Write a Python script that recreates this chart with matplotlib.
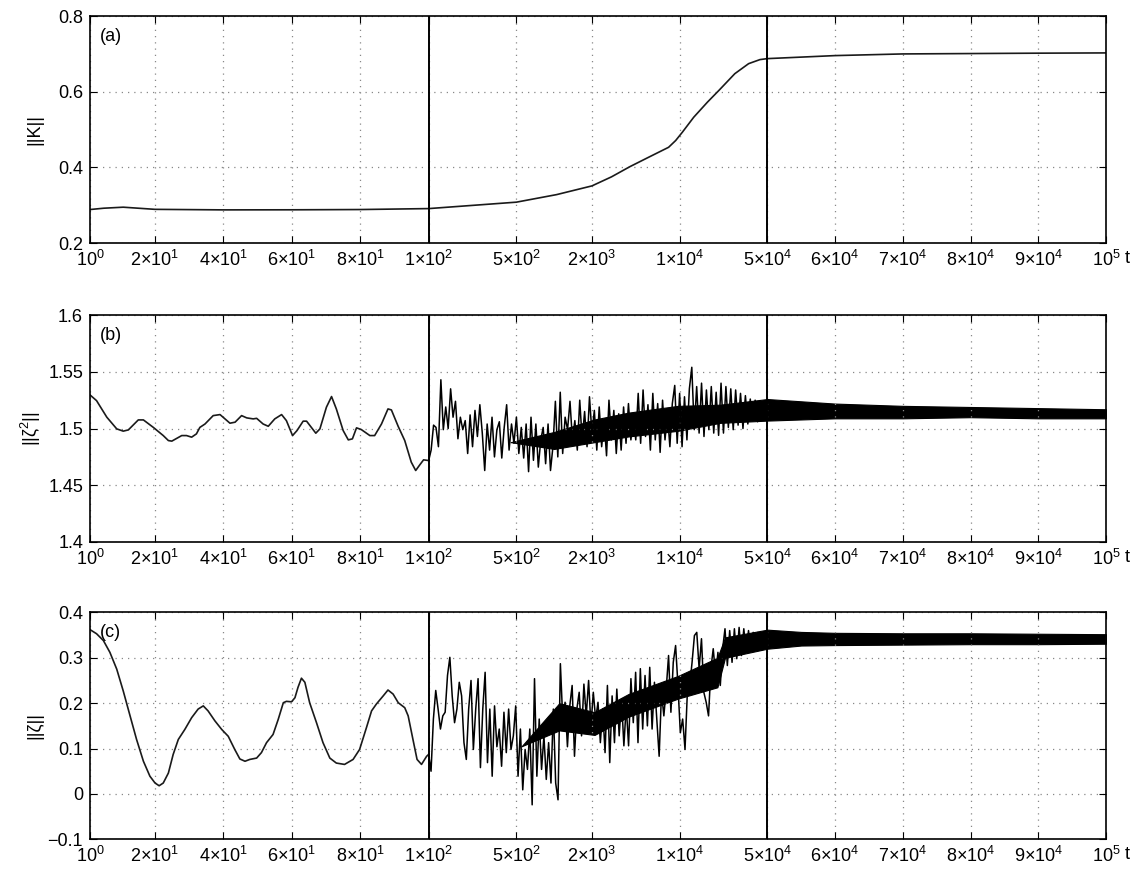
import numpy as np
import matplotlib
matplotlib.use('Agg')
import matplotlib.pyplot as plt

plt.rcParams['font.family'] = ['Liberation Sans', 'DejaVu Sans']
plt.rcParams['mathtext.fontset'] = 'custom'
plt.rcParams['mathtext.rm'] = 'Liberation Sans'
plt.rcParams['mathtext.it'] = 'Liberation Sans:italic'

# ---- x axis: ticks and labels ----
xticks = [1, 20, 40, 60, 80, 100, 500, 2000, 1e4, 5e4, 6e4, 7e4, 8e4, 9e4, 1e5]
xticklabels = [r'$\mathregular{10^{0}}$', r'$\mathregular{2{\times}10^{1}}$', r'$\mathregular{4{\times}10^{1}}$',
               r'$\mathregular{6{\times}10^{1}}$', r'$\mathregular{8{\times}10^{1}}$', r'$\mathregular{1{\times}10^{2}}$',
               r'$\mathregular{5{\times}10^{2}}$', r'$\mathregular{2{\times}10^{3}}$', r'$\mathregular{1{\times}10^{4}}$',
               r'$\mathregular{5{\times}10^{4}}$', r'$\mathregular{6{\times}10^{4}}$', r'$\mathregular{7{\times}10^{4}}$',
               r'$\mathregular{8{\times}10^{4}}$', r'$\mathregular{9{\times}10^{4}}$', r'$\mathregular{10^{5}}$']
breaks = [100, 5e4]

# ---- panel (a): ||K|| ----
a_t = [1, 5, 10.7, 20, 40, 60, 80, 100, 500, 1047, 2000, 2866, 4009, 5600, 8166, 9300, 10510,
       12960, 16670, 20560, 27540, 35480, 43650, 5e4, 6e4, 7e4, 8e4, 9e4, 1e5]
a_v = [0.2885, 0.292, 0.2947, 0.289, 0.2876, 0.2878, 0.2885, 0.291, 0.308, 0.328, 0.351,
       0.375, 0.4018, 0.426, 0.4531, 0.471, 0.4929, 0.5327, 0.5726, 0.6035, 0.6478, 0.6743,
       0.6850, 0.6876, 0.6956, 0.700, 0.701, 0.702, 0.7027]

# ---- panel (b): ||zeta^2|| ----
b1_t = [1, 2.9, 5.9, 8.8, 10.7, 12.2, 15.1, 16.6, 19.5, 22.4, 23.9, 24.9, 27.8, 29.2, 30.7,
        32.1, 33.1, 34.6, 37, 39, 41.9, 43.4, 45.3, 46.8, 48.7, 49.7, 51.6, 53.1, 55, 57,
        58.4, 60.2, 61.5, 63.3, 64.3, 67, 68.2, 70.1, 71.6, 73, 75, 76.5, 77.7, 78.9, 80.3,
        82.8, 84.2, 86.2, 88.1, 89.1, 91.1, 93, 94.9, 96.2, 97.4, 98.5, 100]
b1_v = [1.5296, 1.5246, 1.510, 1.4997, 1.4977, 1.4988, 1.5076, 1.5076, 1.501, 1.4938,
        1.4894, 1.4889, 1.4938, 1.4938, 1.4924, 1.4953, 1.501, 1.504, 1.5114, 1.5123,
        1.5047, 1.5056, 1.5114, 1.5094, 1.5085, 1.509, 1.504, 1.502, 1.5085, 1.5123,
        1.507, 1.4938, 1.4982, 1.5065, 1.5065, 1.4959, 1.4997, 1.5188, 1.5282, 1.5173,
        1.4982, 1.49, 1.4909, 1.5006, 1.4991, 1.4938, 1.4938, 1.504, 1.5173, 1.5164,
        1.5018, 1.4894, 1.4704, 1.4630, 1.468, 1.4724, 1.4718]
# oscillating part 1e2..5e4, read peak/trough values left to right
b2_v = [1.4718, 1.481, 1.503, 1.501, 1.484, 1.543, 1.499, 1.519, 1.500, 1.535, 1.510, 1.524,
        1.491, 1.510, 1.499, 1.507, 1.478, 1.512, 1.484, 1.516, 1.493, 1.521, 1.496, 1.463,
        1.504, 1.481, 1.510, 1.475, 1.499, 1.506, 1.474, 1.501, 1.521, 1.481, 1.504, 1.487,
        1.510, 1.478, 1.501, 1.474, 1.504, 1.462, 1.510, 1.472, 1.504, 1.466, 1.490, 1.501,
        1.469, 1.504, 1.463, 1.484, 1.524, 1.475, 1.532, 1.478, 1.510, 1.499, 1.524, 1.490,
        1.507, 1.481, 1.525, 1.490, 1.515, 1.484, 1.528, 1.496, 1.516, 1.481,
        1.519, 1.484, 1.507, 1.476, 1.525, 1.490, 1.516, 1.478, 1.513, 1.481, 1.519, 1.487,
        1.522, 1.490, 1.509, 1.490, 1.531, 1.487, 1.534, 1.493, 1.521, 1.481, 1.531, 1.490,
        1.522, 1.479, 1.525, 1.490, 1.513, 1.484, 1.522, 1.538, 1.487, 1.531, 1.484, 1.528,
        1.490, 1.535, 1.554, 1.499, 1.537, 1.496, 1.540, 1.493, 1.534, 1.499, 1.537, 1.496,
        1.532, 1.494, 1.540, 1.496, 1.537, 1.501, 1.535, 1.499, 1.534, 1.503, 1.531, 1.500,
        1.529, 1.504, 1.526, 1.507, 1.525, 1.506, 1.524, 1.509, 1.522, 1.510]
# dense (solid looking) core of the oscillation
b_core_t = [450, 1000, 2100, 3900, 9700, 21000, 5e4, 5.5e4, 6e4, 7e4, 8e4, 9e4, 1e5]
b_core_lo = [1.488, 1.482, 1.488, 1.493, 1.498, 1.505, 1.507, 1.508, 1.509, 1.509, 1.510, 1.509, 1.509]
b_core_hi = [1.488, 1.497, 1.508, 1.514, 1.520, 1.521, 1.526, 1.524, 1.522, 1.520, 1.519, 1.518, 1.517]

# ---- panel (c): ||zeta|| ----
c1_t = [1, 2.9, 4.9, 6.8, 8.8, 10.7, 12.7, 14.6, 16.6, 18.5, 20, 21.2, 22.4, 23.9, 25.3,
        26.8, 28.7, 30.7, 32.6, 34.1, 35.5, 37.5, 39.5, 41.4, 43.3, 44.8, 46.3, 47.7, 49.7,
        51.1, 52.6, 54.5, 56, 57.5, 58.4, 59.9, 60.9, 61.8, 62.8, 63.8, 65.2, 67.2, 69.1,
        71.1, 73, 75.4, 77.9, 79.8, 81.8, 83.3, 84.7, 86.7, 88.1, 89.6, 91.1, 93, 94, 95.4,
        96.6, 97.9, 99.4, 100]
c1_v = [0.362, 0.353, 0.338, 0.312, 0.275, 0.227, 0.172, 0.120, 0.072, 0.039, 0.024, 0.018,
        0.024, 0.046, 0.087, 0.120, 0.142, 0.168, 0.187, 0.194, 0.183, 0.161, 0.142, 0.127,
        0.098, 0.077, 0.072, 0.076, 0.079, 0.091, 0.113, 0.131, 0.164, 0.201, 0.204, 0.203,
        0.212, 0.235, 0.255, 0.246, 0.201, 0.157, 0.113, 0.079, 0.068, 0.065, 0.076, 0.098,
        0.146, 0.183, 0.198, 0.216, 0.229, 0.220, 0.201, 0.190, 0.172, 0.120, 0.076, 0.065,
        0.083, 0.087]
c2_v = [0.087, 0.050, 0.165, 0.228, 0.187, 0.143, 0.172, 0.180, 0.261, 0.301, 0.216, 0.157,
        0.187, 0.246, 0.216, 0.113, 0.076, 0.187, 0.250, 0.098, 0.187, 0.254, 0.058, 0.187,
        0.268, 0.069, 0.187, 0.039, 0.194, 0.104, 0.143, 0.061, 0.180, 0.091, 0.187, 0.098,
        0.128, 0.194, 0.039, 0.143, 0.009, 0.098, 0.054, 0.143, -0.024, 0.254, 0.039, 0.165,
        0.054, 0.128, 0.032, 0.113, 0.024, 0.187, 0.024, -0.013, 0.287, 0.165, 0.202, 0.104,
        0.194, 0.239, 0.083, 0.187, 0.224, 0.128, 0.242, 0.172, 0.250, 0.150, 0.224, 0.165,
        0.202, 0.113, 0.187, 0.091, 0.239, 0.069, 0.216, 0.113, 0.231, 0.128, 0.209, 0.106,
        0.194, 0.106, 0.254, 0.157, 0.268, 0.113, 0.276, 0.143, 0.261, 0.150, 0.279, 0.143,
        0.246, 0.165, 0.083, 0.224, 0.172, 0.231, 0.305, 0.180, 0.290, 0.327, 0.239, 0.135,
        0.165, 0.098, 0.224, 0.239, 0.290, 0.349, 0.356, 0.276, 0.342, 0.224, 0.202, 0.172,
        0.276, 0.320, 0.261, 0.312, 0.239, 0.320, 0.364, 0.283, 0.360, 0.290, 0.364, 0.298,
        0.367, 0.305, 0.364, 0.312, 0.360, 0.316, 0.356, 0.323, 0.356, 0.327, 0.353, 0.334, 0.349]
c_core_t = [550, 1100, 2100, 3900, 9700, 20000, 23000, 5e4, 5.5e4, 6e4, 7e4, 8e4, 9e4, 1e5]
c_core_lo = [0.105, 0.14, 0.13, 0.17, 0.21, 0.235, 0.30, 0.320, 0.327, 0.328, 0.329, 0.330, 0.330, 0.331]
c_core_hi = [0.105, 0.20, 0.18, 0.22, 0.26, 0.30, 0.345, 0.362, 0.357, 0.355, 0.354, 0.354, 0.353, 0.352]


# piecewise time axis: linear 1..100, log 100..5e4, linear 5e4..1e5
def fwd(t):
    t = np.asarray(t, dtype=float)
    tl = np.clip(t, 1e-9, None)
    return np.where(t <= 100, (t - 1) / 99,
                    np.where(t <= 5e4, 1 + np.log10(tl / 100) / np.log10(500),
                             2 + (t - 5e4) / 5e4))


def inv(u):
    u = np.asarray(u, dtype=float)
    return np.where(u <= 1, 1 + 99 * u,
                    np.where(u <= 2, 100 * 500 ** np.clip(u - 1, 0, 1),
                             5e4 + 5e4 * (u - 2)))


fig = plt.figure(figsize=(11.37, 8.76), dpi=100)
bottoms = [0.7226, 0.3813, 0.0419]
lc = '#1a1a1a'
fs = 13

panels = [
    ('(a)', '||K||', (0.2, 0.8), [0.2, 0.4, 0.6, 0.8], ['0.2', '0.4', '0.6', '0.8']),
    ('(b)', '||ζ$^2$||', (1.4, 1.6), [1.4, 1.45, 1.5, 1.55, 1.6], ['1.4', '1.45', '1.5', '1.55', '1.6']),
    ('(c)', '||ζ||', (-0.1, 0.4), [-0.1, 0, 0.1, 0.2, 0.3, 0.4], ['\u22120.1', '0', '0.1', '0.2', '0.3', '0.4']),
]

axes = []
for (tag, ylab, ylim, yt, ytl), b in zip(panels, bottoms):
    ax = fig.add_axes([0.0792, b, 0.8935, 0.259])
    ax.set_xscale('function', functions=(fwd, inv))
    ax.set_xlim(1, 1e5)
    ax.set_ylim(*ylim)
    ax.set_xticks(xticks)
    ax.set_xticklabels(xticklabels)
    ax.set_yticks(yt)
    ax.set_yticklabels(ytl)
    ax.minorticks_off()
    ax.tick_params(direction='in', length=5, width=0.8, top=True, right=True,
                   labelsize=fs, pad=5)
    ax.grid(True, linestyle=(0, (1, 4)), color='#888888', linewidth=0.9)
    for s in ax.spines.values():
        s.set_linewidth(1.2)
    for xb in breaks:
        ax.axvline(xb, color='black', linewidth=1.4, zorder=4)
    ax.set_ylabel(ylab, fontsize=fs)
    ax.yaxis.set_label_coords(-0.046, 0.5)
    ax.text(0.01, 0.91, tag, transform=ax.transAxes, fontsize=fs, va='center', ha='left')
    ax.annotate('t', xy=(1, 0), xycoords='axes fraction', xytext=(15, -11),
                textcoords='offset points', fontsize=fs, ha='center', va='center')
    axes.append(ax)

ax_a, ax_b, ax_c = axes

ax_a.plot(a_t, a_v, color=lc, linewidth=1.2)

ax_b.plot(b1_t, b1_v, color=lc, linewidth=1.2)
ax_b.fill_between(b_core_t, b_core_lo, b_core_hi, color='black', linewidth=0.8)
ax_b.plot(np.geomspace(100, 5e4, len(b2_v)), b2_v, color='black', linewidth=1.1)

ax_c.plot(c1_t, c1_v, color=lc, linewidth=1.2)
ax_c.fill_between(c_core_t, c_core_lo, c_core_hi, color='black', linewidth=0.8)
ax_c.plot(np.geomspace(100, 5e4, len(c2_v)), c2_v, color='black', linewidth=1.1)

fig.savefig('out.png', dpi=100)
